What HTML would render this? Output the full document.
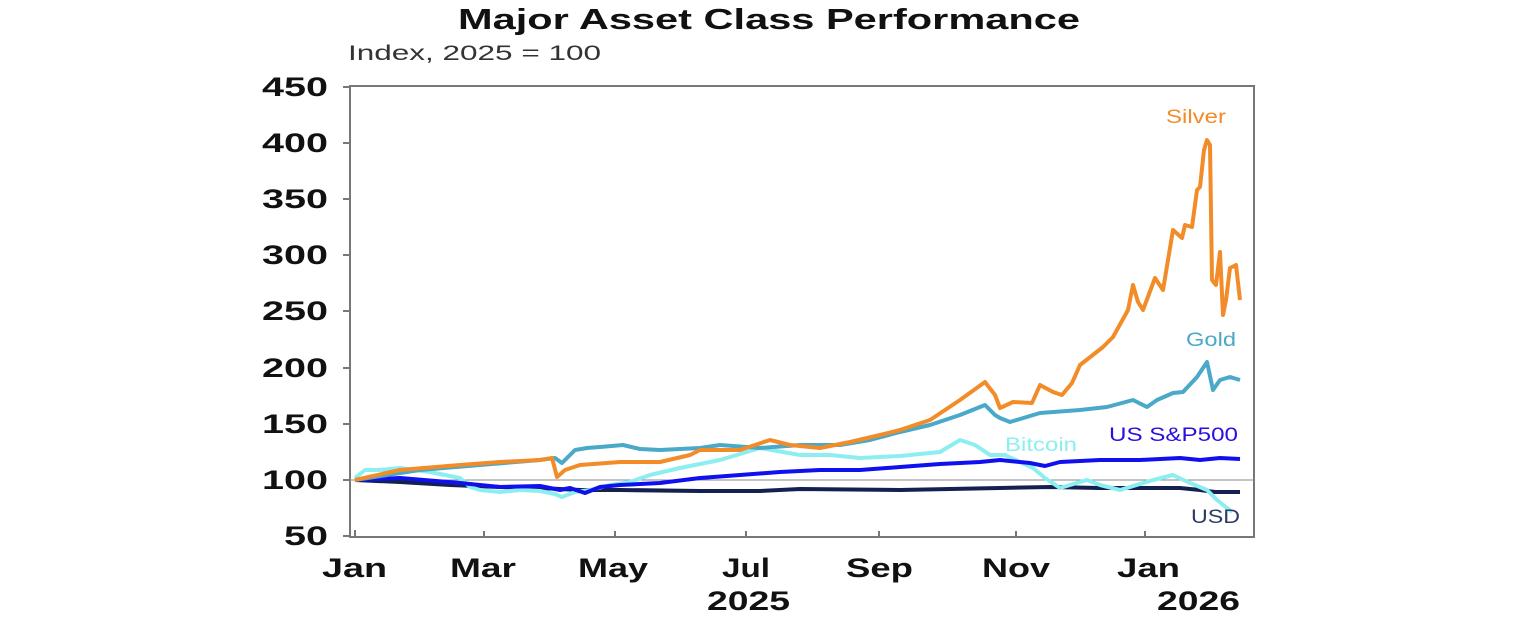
<!DOCTYPE html>
<html><head><meta charset="utf-8"><style>
html,body{margin:0;padding:0;background:#fff;}
svg{display:block;font-family:"Liberation Sans",Arial,sans-serif;}
</style></head><body>
<svg width="1536" height="630" viewBox="0 0 1536 630" xmlns="http://www.w3.org/2000/svg">
<text x="458" y="29" font-size="29" font-weight="bold" fill="#111" textLength="622" lengthAdjust="spacingAndGlyphs">Major Asset Class Performance</text>
<text x="348" y="60" font-size="21" fill="#333" textLength="253" lengthAdjust="spacingAndGlyphs">Index, 2025 = 100</text>
<rect x="350" y="86" width="904" height="451" fill="none" stroke="#777" stroke-width="2"/>
<line x1="350" y1="480" x2="1254" y2="480" stroke="#888" stroke-width="1"/>
<g stroke="#777" stroke-width="2">
<line x1="343" y1="87" x2="350" y2="87"/><line x1="343" y1="143" x2="350" y2="143"/><line x1="343" y1="199" x2="350" y2="199"/><line x1="343" y1="255" x2="350" y2="255"/><line x1="343" y1="311" x2="350" y2="311"/><line x1="343" y1="368" x2="350" y2="368"/><line x1="343" y1="424" x2="350" y2="424"/><line x1="343" y1="480" x2="350" y2="480"/><line x1="343" y1="536" x2="350" y2="536"/>
<line x1="355" y1="530" x2="355" y2="537"/><line x1="484" y1="531" x2="484" y2="537"/><line x1="615" y1="531" x2="615" y2="537"/><line x1="746" y1="531" x2="746" y2="537"/><line x1="879" y1="531" x2="879" y2="537"/><line x1="1016" y1="531" x2="1016" y2="537"/><line x1="1145" y1="531" x2="1145" y2="537"/>
</g>
<g font-size="27" font-weight="bold" fill="#111" lengthAdjust="spacingAndGlyphs">
<text x="262" y="96" textLength="66" lengthAdjust="spacingAndGlyphs">450</text>
<text x="262" y="152" textLength="66" lengthAdjust="spacingAndGlyphs">400</text>
<text x="262" y="208" textLength="66" lengthAdjust="spacingAndGlyphs">350</text>
<text x="262" y="264" textLength="66" lengthAdjust="spacingAndGlyphs">300</text>
<text x="262" y="320" textLength="66" lengthAdjust="spacingAndGlyphs">250</text>
<text x="262" y="377" textLength="66" lengthAdjust="spacingAndGlyphs">200</text>
<text x="262" y="433" textLength="66" lengthAdjust="spacingAndGlyphs">150</text>
<text x="262" y="489" textLength="66" lengthAdjust="spacingAndGlyphs">100</text>
<text x="284" y="545" textLength="44" lengthAdjust="spacingAndGlyphs">50</text>
<text x="322" y="577" textLength="65" lengthAdjust="spacingAndGlyphs">Jan</text>
<text x="450" y="577" textLength="66" lengthAdjust="spacingAndGlyphs">Mar</text>
<text x="578" y="577" textLength="70" lengthAdjust="spacingAndGlyphs">May</text>
<text x="722" y="577" textLength="48" lengthAdjust="spacingAndGlyphs">Jul</text>
<text x="846" y="577" textLength="67" lengthAdjust="spacingAndGlyphs">Sep</text>
<text x="982" y="577" textLength="68" lengthAdjust="spacingAndGlyphs">Nov</text>
<text x="1117" y="577" textLength="63" lengthAdjust="spacingAndGlyphs">Jan</text>
<text x="707" y="610" textLength="83" lengthAdjust="spacingAndGlyphs">2025</text>
<text x="1157" y="610" textLength="83" lengthAdjust="spacingAndGlyphs">2026</text>
</g>
<g fill="none" stroke-width="4" stroke-linejoin="round">
<polyline stroke="#14204f" points="355,480 400,482 450,485 500,487 540,488 580,490 620,490 700,491 760,491 800,489 900,490 1000,488 1050,487 1100,488 1180,488 1200,490 1215,492 1240,492"/>
<polyline stroke="#8ceef0" points="355,478 365,470 380,470 400,468 430,472 460,478 470,487 480,490 500,492 520,490 540,491 555,494 562,497 575,492 590,490 610,485 630,482 650,475 680,468 720,460 760,448 800,455 830,455 860,458 900,456 940,452 960,440 975,445 990,455 1005,455 1020,462 1033,468 1045,478 1060,488 1087,480 1100,485 1120,490 1153,480 1173,475 1190,483 1207,490 1217,500 1227,508 1232,512"/>
<polyline stroke="#1010ee" points="355,480 400,478 460,483 500,487 540,486 560,490 570,488 585,493 600,487 620,485 660,483 700,478 740,475 780,472 820,470 860,470 900,467 940,464 980,462 1000,460 1030,463 1045,466 1060,462 1100,460 1140,460 1180,458 1200,460 1220,458 1240,459"/>
<polyline stroke="#4aa8c8" points="355,480 420,470 480,465 540,460 555,458 562,463 575,450 587,448 600,447 623,445 640,449 660,450 700,448 720,445 760,448 800,445 840,445 870,440 900,432 930,425 960,415 985,405 995,415 1000,418 1010,422 1040,413 1080,410 1107,407 1133,400 1147,407 1157,400 1173,393 1183,392 1197,377 1207,362 1213,390 1220,380 1230,377 1240,380"/>
<polyline stroke="#f28c28" points="355,480 400,470 460,465 500,462 540,460 552,458 557,477 565,470 580,465 620,462 660,462 690,455 700,450 740,450 770,440 790,445 820,448 850,442 880,435 900,430 930,420 960,400 985,382 995,395 1000,408 1013,402 1032,403 1040,385 1053,392 1062,395 1072,383 1080,365 1103,347 1113,337 1128,310 1133,285 1138,302 1143,310 1155,278 1163,290 1173,230 1182,238 1185,225 1192,227 1197,190 1200,187 1204,150 1207,140 1210,145 1212,280 1216,285 1220,252 1223,315 1226,300 1230,268 1236,265 1240,300"/>
</g>
<g font-size="19">
<text x="1166" y="123" fill="#f28c28" textLength="60" lengthAdjust="spacingAndGlyphs">Silver</text>
<text x="1186" y="346" fill="#4aa8c8" textLength="50" lengthAdjust="spacingAndGlyphs">Gold</text>
<text x="1109" y="441" fill="#2a10e0" textLength="129" lengthAdjust="spacingAndGlyphs">US S&amp;P500</text>
<text x="1005" y="451" fill="#8ceef0" textLength="72" lengthAdjust="spacingAndGlyphs">Bitcoin</text>
<text x="1191" y="523" fill="#2c3a66" textLength="49" lengthAdjust="spacingAndGlyphs">USD</text>
</g>
</svg>
</body></html>
